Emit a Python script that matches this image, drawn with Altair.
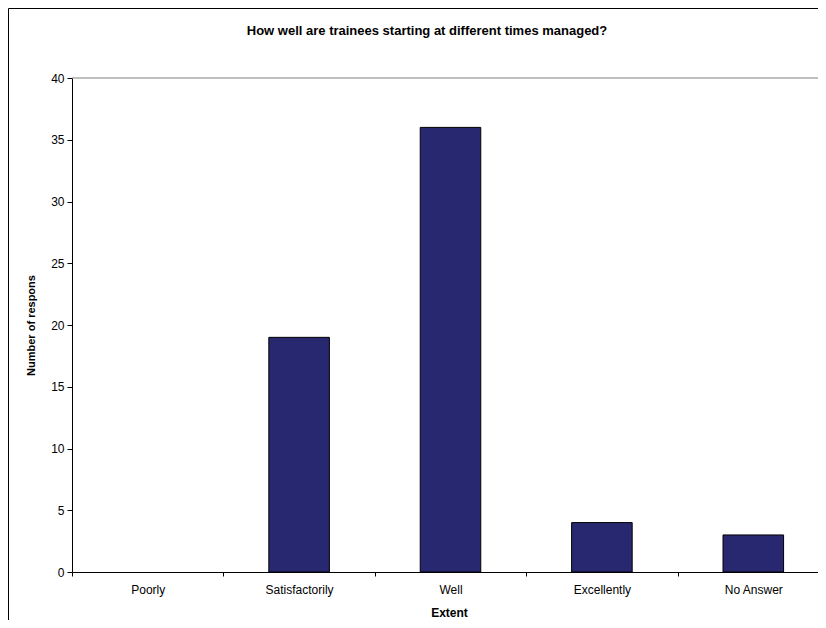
import altair as alt
import pandas as pd

categories = ["Poorly", "Satisfactorily", "Well", "Excellently", "No Answer"]
counts = [0, 19, 36, 4, 3]
y_ticks = [0, 5, 10, 15, 20, 25, 30, 35, 40]
title_text = "How well are trainees starting at different times managed?"
x_title = "Extent"
y_title = "Number of respons"

df = pd.DataFrame({"Extent": categories, "Count": counts})
FONT = "Liberation Sans"

bars = alt.Chart(df).mark_bar(
    color="#282870", stroke="#000000", strokeWidth=1, width=alt.RelativeBandSize(0.4)
).encode(
    x=alt.X(
        "Extent:N",
        sort=categories,
        scale=alt.Scale(paddingInner=0, paddingOuter=0, range=[0, 757]),
        axis=alt.Axis(
            title=x_title, tickBand="extent", labelAngle=0, tickSize=4,
            labelPadding=8, titlePadding=12, labelFontSize=12, titleFontSize=12,
            titleFontWeight="bold", titleX=377,
        ),
    ),
    y=alt.Y(
        "Count:Q",
        scale=alt.Scale(domain=[0, 40]),
        axis=alt.Axis(
            title=y_title, values=y_ticks, grid=False, tickSize=5,
            labelPadding=3, titlePadding=14, labelFontSize=12, titleFontSize=11,
            titleFontWeight="bold",
        ),
    ),
    strokeOpacity=alt.condition("datum.Count > 0", alt.value(1), alt.value(0)),
)

top_line = alt.Chart(pd.DataFrame({"y": [40]})).mark_rule(color="#808080", strokeWidth=1).encode(
    y="y:Q"
)

left_border = alt.Chart(pd.DataFrame({"a": [0]})).mark_rule(color="#000000", strokeWidth=1).encode(
    x=alt.value(-63.5), y=alt.value(-69.5), y2=alt.value(560)
)
top_border = alt.Chart(pd.DataFrame({"a": [0]})).mark_rule(color="#000000", strokeWidth=1).encode(
    x=alt.value(-63.5), x2=alt.value(760), y=alt.value(-69.5)
)

chart = alt.layer(top_line, bars, left_border, top_border).properties(
    width=746,
    height=494,
    autosize=alt.AutoSizeParams(type="none"),
    padding={"left": 64, "top": 70, "right": 0, "bottom": 48},
    title=alt.TitleParams(
        text=title_text, fontSize=13, fontWeight="bold", font=FONT,
        anchor="middle", dx=-18, offset=-30, color="#000000",
    ),
).configure_view(stroke=None).configure_axis(
    domainColor="#000000", tickColor="#000000", labelColor="#000000",
    titleColor="#000000", labelFont=FONT, titleFont=FONT,
)

chart.save("out.html", embed_options={"renderer": "svg", "actions": False})
